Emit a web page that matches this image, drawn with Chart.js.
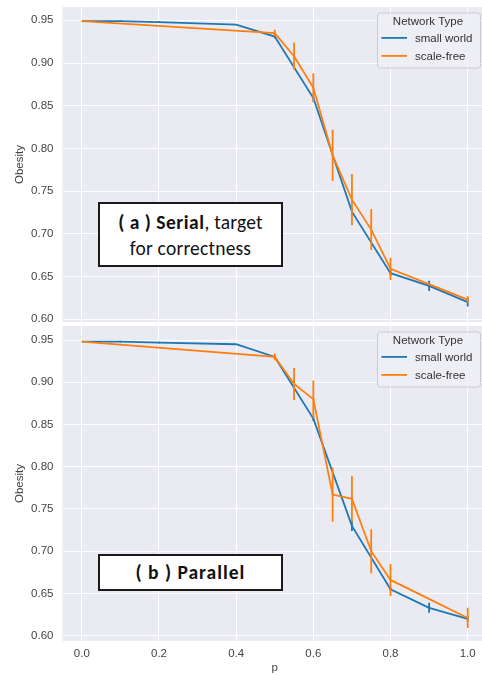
<!DOCTYPE html>
<html>
<head>
<meta charset="utf-8">
<script src="https://cdn.jsdelivr.net/npm/chart.js@4.4.0/dist/chart.umd.min.js"></script>
<style>
  html, body { margin: 0; padding: 0; background: #fff; overflow: hidden; width: 482px; height: 675px; }
  canvas { position: absolute; left: 0; }
  #serial { top: 0; }
  #parallel { top: 320px; }
  .note {
    position: absolute; left: 98px; width: 185px; box-sizing: border-box;
    border: 2px solid #1a1a1a; background: #fff; color: #111;
    font-family: Carlito, Calibri, Lato, sans-serif; font-size: 19.5px; text-align: center;
  }
  .note b { letter-spacing: 0.5px; }
  #noteA { top: 202px; height: 65px; line-height: 26px; padding-top: 5px; letter-spacing: 0.2px; }
  #noteB { top: 554px; height: 37px; line-height: 32px; font-weight: bold; letter-spacing: 1px; }
</style>
</head>
<body>
<canvas id="serial" width="487" height="322"></canvas>
<canvas id="parallel" width="487" height="355"></canvas>
<div class="note" id="noteA"><b>( a ) Serial</b>, target<br>for correctness</div>
<div class="note" id="noteB">( b ) Parallel</div>
<script>
// axis ticks
var pTicks = [0.0, 0.2, 0.4, 0.6, 0.8, 1.0];
var obesityTicks = [0.60, 0.65, 0.70, 0.75, 0.80, 0.85, 0.90, 0.95];
var seriesNames = ["small world", "scale-free"];
var seriesColors = ["#1f77b4", "#ff7f0e"];

// p values each network type was run at
var smallWorldP = [0.0, 0.1, 0.2, 0.4, 0.5, 0.6, 0.7, 0.8, 0.9, 1.0];
var scaleFreeP = [0.0, 0.5, 0.55, 0.6, 0.65, 0.7, 0.75, 0.8, 1.0];

// (a) serial
var serialSmallWorld = [0.949, 0.949, 0.948, 0.945, 0.931, 0.859, 0.726, 0.654, 0.639, 0.620];
var serialSmallWorldErr = [0, 0.001, 0.001, 0, 0.002, 0.003, 0.004, 0.003, 0.006, 0.005];
var serialScaleFree = [0.949, 0.935, 0.908, 0.871, 0.792, 0.740, 0.705, 0.659, 0.623];
var serialScaleFreeErr = [0, 0.004, 0.016, 0.017, 0.030, 0.030, 0.024, 0.013, 0.004];

// (b) parallel
var parallelSmallWorld = [0.948, 0.948, 0.947, 0.945, 0.930, 0.857, 0.730, 0.655, 0.633, 0.620];
var parallelSmallWorldErr = [0, 0.001, 0.001, 0, 0.002, 0.003, 0.006, 0.002, 0.006, 0.003];
var parallelScaleFree = [0.948, 0.930, 0.898, 0.880, 0.767, 0.762, 0.700, 0.666, 0.621];
var parallelScaleFreeErr = [0, 0.004, 0.019, 0.022, 0.032, 0.027, 0.026, 0.019, 0.012];

Chart.defaults.font.family = "'Liberation Sans', Arial, sans-serif";
Chart.defaults.font.size = 11.5;
Chart.defaults.color = "#444";

function pairs(xs, ys) {
    return xs.map(function (x, i) { return { x: x, y: ys[i] }; });
}

var plotBackground = {
    id: "plotBackground",
    beforeDraw: function (chart) {
        var a = chart.chartArea, ctx = chart.ctx;
        ctx.save();
        ctx.fillStyle = "#eaeaf2";
        ctx.fillRect(a.left, a.top, a.right - a.left, a.bottom - a.top);
        ctx.restore();
    }
};

var errorBars = {
    id: "errorBars",
    afterDatasetDraw: function (chart, args) {
        var ds = chart.data.datasets[args.index];
        if (!ds.errors) return;
        var xs = chart.scales.x, ys = chart.scales.y, ctx = chart.ctx;
        ctx.save();
        ctx.strokeStyle = ds.borderColor;
        ctx.lineWidth = 1.8;
        ctx.beginPath();
        ds.data.forEach(function (pt, i) {
            var e = ds.errors[i];
            if (!e) return;
            var px = xs.getPixelForValue(pt.x);
            ctx.moveTo(px, ys.getPixelForValue(pt.y - e));
            ctx.lineTo(px, ys.getPixelForValue(pt.y + e));
        });
        ctx.stroke();
        ctx.restore();
    }
};

// matplotlib style legend box in the upper right corner
var boxLegend = {
    id: "boxLegend",
    afterDraw: function (chart) {
        var a = chart.chartArea, ctx = chart.ctx;
        var w = 103, h = 55;
        var left = a.right - 7 - w, top = a.top + 5.5;
        ctx.save();
        ctx.fillStyle = "rgba(238,238,245,0.9)";
        ctx.strokeStyle = "#cccccc";
        ctx.lineWidth = 1;
        ctx.beginPath();
        ctx.roundRect(left + 0.5, top + 0.5, w, h, 3);
        ctx.fill();
        ctx.stroke();
        ctx.font = "11.5px 'Liberation Sans', Arial, sans-serif";
        ctx.fillStyle = "#333";
        ctx.textAlign = "center";
        ctx.textBaseline = "alphabetic";
        ctx.fillText("Network Type", left + 51, top + 12.7);
        ctx.textAlign = "left";
        seriesNames.forEach(function (name, i) {
            var y = top + 25.4 + i * 18;
            ctx.strokeStyle = seriesColors[i];
            ctx.lineWidth = 1.8;
            ctx.beginPath();
            ctx.moveTo(left + 4.4, y);
            ctx.lineTo(left + 30, y);
            ctx.stroke();
            ctx.fillText(name, left + 38, y + 4);
        });
        ctx.restore();
    }
};

function makeChart(id, swVals, swErr, sfVals, sfErr, opts) {
    return new Chart(document.getElementById(id), {
        type: "line",
        data: {
            datasets: [{
                label: seriesNames[0],
                data: pairs(smallWorldP, swVals),
                errors: swErr,
                borderColor: seriesColors[0],
                borderWidth: 1.8,
                pointRadius: 0,
                order: 1
            }, {
                label: seriesNames[1],
                data: pairs(scaleFreeP, sfVals),
                errors: sfErr,
                borderColor: seriesColors[1],
                borderWidth: 1.8,
                pointRadius: 0,
                order: 0
            }]
        },
        options: {
            responsive: false,
            animation: false,
            layout: { padding: { top: opts.padTop, left: 0, right: 0, bottom: 0 } },
            plugins: { legend: { display: false }, tooltip: { enabled: false } },
            scales: {
                x: {
                    type: "linear",
                    min: -0.05,
                    max: 1.05,
                    afterBuildTicks: function (s) {
                        s.ticks = pTicks.map(function (v) { return { value: v }; });
                    },
                    afterFit: function (s) {
                        s.height = opts.xHeight;
                        s.paddingLeft = 0;
                        s.paddingRight = 0;
                    },
                    ticks: {
                        display: opts.showX,
                        padding: 6,
                        callback: function (v) { return v.toFixed(1); }
                    },
                    grid: { color: "#ffffff", lineWidth: 1, drawTicks: false },
                    border: { display: false },
                    title: { display: opts.showX, text: "p", padding: { top: 0, bottom: 0 } }
                },
                y: {
                    min: opts.yMin,
                    max: opts.yMax,
                    afterBuildTicks: function (s) {
                        s.ticks = obesityTicks.map(function (v) { return { value: v }; });
                    },
                    afterFit: function (s) {
                        s.width = 62.5;
                        s.paddingTop = 0;
                        s.paddingBottom = 0;
                    },
                    ticks: {
                        padding: 9,
                        callback: function (v) { return v.toFixed(2); }
                    },
                    grid: { color: "#ffffff", lineWidth: 1, drawTicks: false },
                    border: { display: false },
                    title: { display: true, text: "Obesity", padding: { top: 13, bottom: 0 } }
                }
            }
        },
        plugins: [plotBackground, errorBars, boxLegend]
    });
}

makeChart("serial", serialSmallWorld, serialSmallWorldErr, serialScaleFree, serialScaleFreeErr,
    { padTop: 7, xHeight: 0, showX: false, yMin: 0.5968, yMax: 0.9656 });
makeChart("parallel", parallelSmallWorld, parallelSmallWorldErr, parallelScaleFree, parallelScaleFreeErr,
    { padTop: 6, xHeight: 34, showX: true, yMin: 0.5937, yMax: 0.9666 });
</script>
</body>
</html>
